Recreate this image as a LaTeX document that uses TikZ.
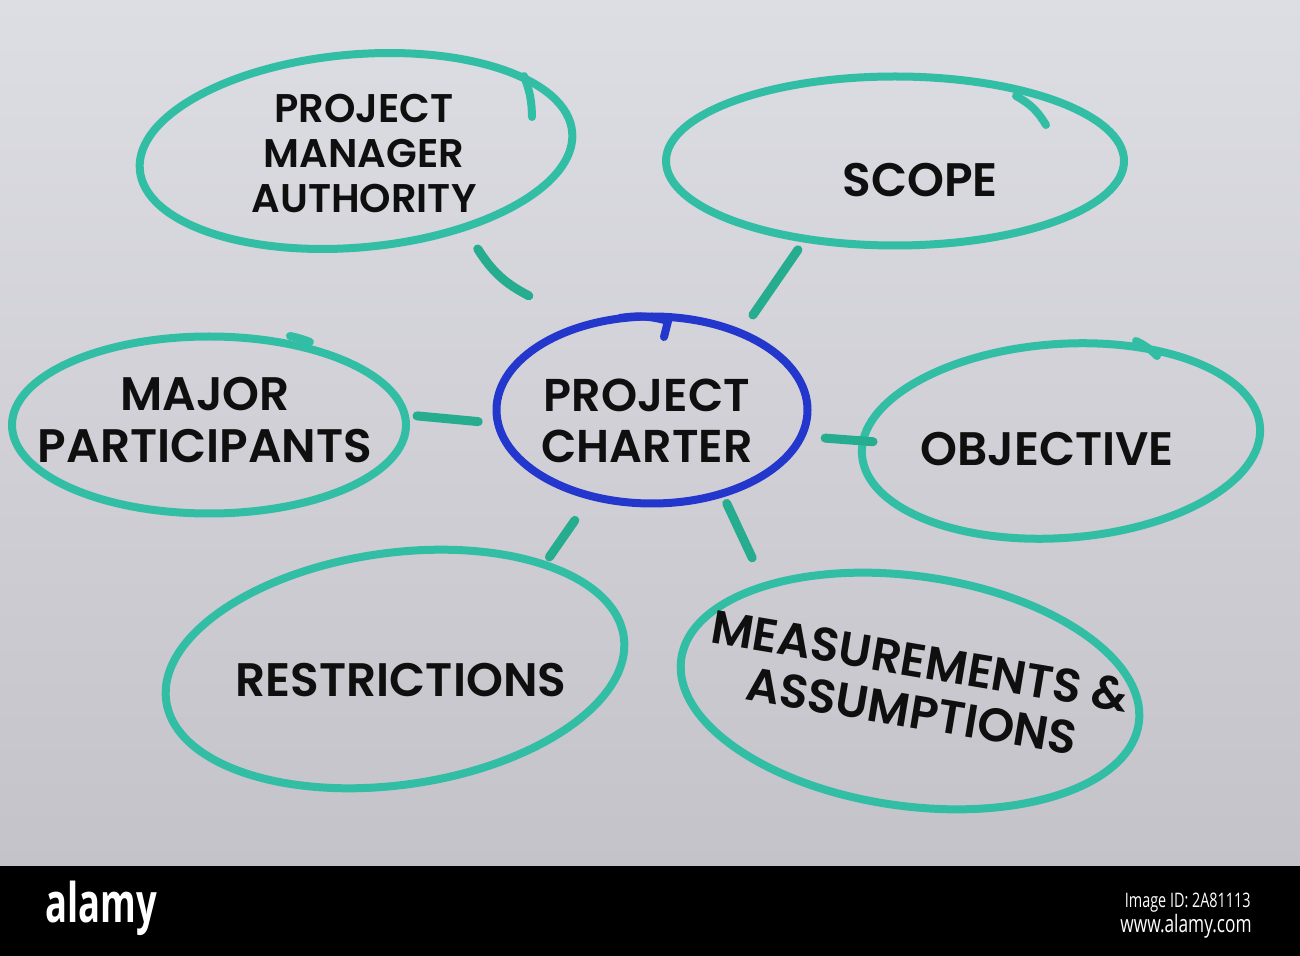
\documentclass[tikz,border=0pt]{standalone}
\usepackage{fontspec}
\setmainfont{Poppins}[BoldFont={Poppins SemiBold}]
\newfontfamily\barfont{Open Sans}
\usepackage{graphicx}
\usetikzlibrary{shapes.geometric,calc}
\definecolor{tealline}{RGB}{50,190,165}
\definecolor{tealconn}{RGB}{38,172,142}
\definecolor{penblue}{RGB}{35,55,205}
\definecolor{boardtop}{RGB}{221,221,228}
\definecolor{boardbot}{RGB}{196,195,201}
\definecolor{ink}{RGB}{15,15,15}
\begin{document}
\begin{tikzpicture}[x=0.5pt,y=-0.5pt,
  bubble/.style={ellipse, draw=tealline, line width=4pt, inner sep=0pt, outer sep=0pt},
  hub/.style={ellipse, draw=penblue, line width=4pt, inner sep=0pt, outer sep=0pt},
  txt/.style={text=ink, align=center, inner sep=0pt},
  big/.style={font=\bfseries\fontsize{23.5}{26}\selectfont},
  conn/.style={draw=tealconn, line width=4.5pt, line cap=round},
  tail/.style={draw=tealline, line width=4pt, line cap=round},
  bartxt/.style={text=white, inner sep=0pt},
]
\useasboundingbox (0,0) rectangle (1300,956);
\shade[top color=boardtop, bottom color=boardbot] (0,0) rectangle (1300,866);
\fill[black] (0,866) rectangle (1300,956);

% bubbles
\node[bubble, minimum width=217pt, minimum height=96.5pt, rotate=5] (pma) at (356,151) {};
\node[bubble, minimum width=229pt, minimum height=84.5pt] (scope) at (895,161) {};
\node[bubble, minimum width=197pt, minimum height=88.5pt] (major) at (209,425) {};
\node[hub, minimum width=155.5pt, minimum height=93.5pt] (charter) at (652,410) {};
\node[bubble, minimum width=199.5pt, minimum height=97pt, rotate=4] (obj) at (1061,441) {};
\node[bubble, minimum width=231pt, minimum height=116pt, rotate=8] (restr) at (395,669) {};
\node[bubble, minimum width=231pt, minimum height=115pt, rotate=-8] (meas) at (910,691) {};

% pen tails
\draw[tail] (524,76) to[bend left=10] (532,117);
\draw[tail] (1016,96) to[bend left=15] (1046,125);
\draw[tail] (1136,341) to[bend left=10] (1157,356);
\draw[tail] (290,336) to[bend left=5] (310,342);
\draw[draw=penblue, line width=4pt, line cap=round] (620,318) to[bend left=12] (668,321) -- (664,337);

% labels
\node[txt, font=\bfseries\fontsize{20}{22.5}\selectfont] (tpma) at (364,153) {PROJECT\\MANAGER\\AUTHORITY};
\node[txt, big] (tscope) at (920,180) {SCOPE};
\node[txt, big] (tmajor) at (205,420) {MAJOR\\PARTICIPANTS};
\node[txt, font=\bfseries\fontsize{23}{25.5}\selectfont] (tcharter) at (647,421) {PROJECT\\CHARTER};
\node[txt, big] (tobj) at (1047,449) {OBJECTIVE};
\node[txt, big] (trestr) at (401,680) {RESTRICTIONS};
\node[txt, font=\bfseries\fontsize{23.5}{25.5}\selectfont, rotate=-9.5] (tmeas) at (916,686) {MEASUREMENTS \&\\ASSUMPTIONS};

% connectors
\draw[conn] ($(pma.-43.5)!0.19!(charter.137.4)$) to[bend right=15] ($(pma.-43.5)!0.65!(charter.137.4)$);
\draw[conn, shorten <=6.7pt, shorten >=11pt] (scope.221) -- (charter.41);
\draw[conn, shorten <=6.2pt, shorten >=10pt] (major.3) -- (charter.185);
\draw[conn, shorten <=12pt, shorten >=-5pt] (charter.-10) -- (obj.176);
\draw[conn, shorten <=14.75pt, shorten >=4.7pt] (charter.235) -- (restr.27);
\draw[conn, shorten <=5.5pt, shorten >=15.5pt] (charter.-50) -- (meas.152);

% bottom bar
\node[bartxt, font=\barfont\bfseries\fontsize{26}{26}\selectfont] (logo) at (101,908) {\scalebox{0.7}[1.05]{alamy}};
\node[bartxt, anchor=east, font=\barfont\fontsize{10}{10}\selectfont] (imgid) at (1251,903) {\scalebox{0.72}[1]{Image ID: 2A81113}};
\node[bartxt, anchor=east, font=\barfont\fontsize{12}{12}\selectfont] (url) at (1252,926) {\scalebox{0.72}[1]{www.alamy.com}};
\end{tikzpicture}
\end{document}
